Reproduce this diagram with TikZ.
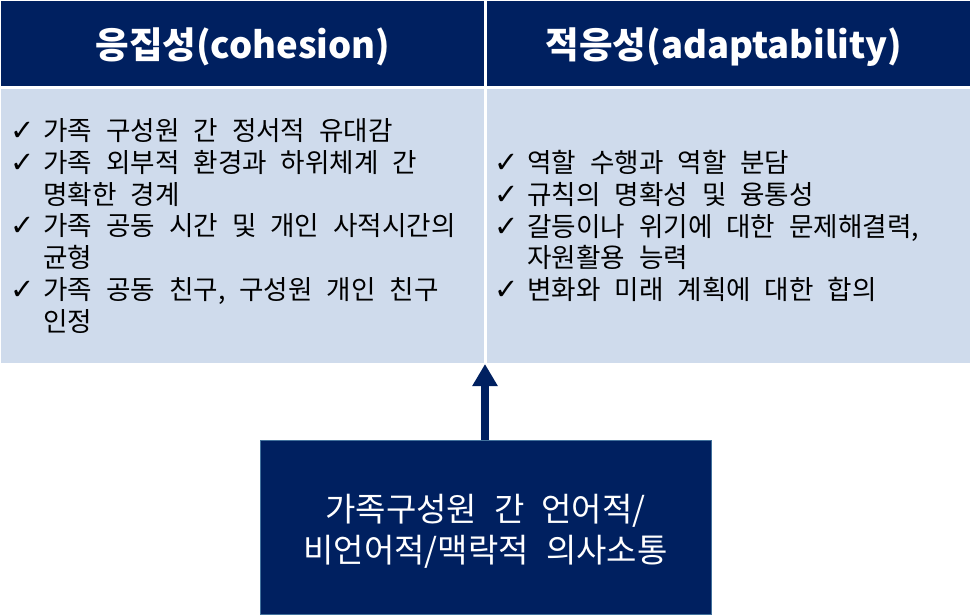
\documentclass[tikz,border=0pt]{standalone}
\usepackage{fontspec}
\usetikzlibrary{arrows.meta}
\newfontfamily\kr{Noto Sans CJK KR}
\newfontfamily\symf{DejaVu Sans}
\definecolor{navy}{RGB}{0,32,96}
\definecolor{lightbody}{RGB}{207,219,236}
\definecolor{steel}{RGB}{65,113,156}
\newcommand{\chk}{\makebox[33pt][l]{\symf\fontsize{29}{29}\selectfont ✓}}
\newcommand{\ind}{\hspace*{33pt}}
\newcommand{\setspace}[1]{\fontdimen2\font=#1\fontdimen3\font=0pt\fontdimen4\font=0pt\relax}
\tikzset{
  hdr/.style={fill=navy, draw=none, minimum width=483pt, minimum height=85pt, anchor=north west, inner sep=0pt},
  bodycell/.style={fill=lightbody, draw=none, minimum width=483pt, minimum height=274pt, anchor=north west, inner sep=0pt},
  hdrtext/.style={text=white, font=\kr\bfseries\fontsize{36.5}{40}\selectfont, inner sep=0pt},
  listtext/.style={text=black, align=left, inner sep=0pt, anchor=west, font=\kr\fontsize{26.6}{31.8}\selectfont\setspace{14pt}},
  commbox/.style={fill=navy, draw=steel, line width=1pt, minimum width=451pt, minimum height=174pt, anchor=north west, inner sep=0pt},
  commtext/.style={text=white, align=center, inner sep=0pt, font=\kr\fontsize{33}{41}\selectfont\setspace{17pt}},
  arr/.style={draw=navy, line width=8pt, -{Triangle[width=24pt,length=22pt]}}
}
\begin{document}
\begin{tikzpicture}[x=1pt,y=-1pt]
\useasboundingbox (0,0) rectangle (972,615);
% header cells
\node[hdr] (hdrL) at (1,1) {};
\node[hdr] (hdrR) at (487,1) {};
\node[hdrtext] (hdrLt) at (243,47) {응집성(cohesion)};
\node[hdrtext] (hdrRt) at (724,47) {적응성(adaptability)};
% body cells
\node[bodycell] (bodyL) at (1,89) {};
\node[bodycell] (bodyR) at (487,89) {};
\node[listtext] (txtL) at (10,226) {\chk 가족 구성원 간 정서적 유대감\\
\chk 가족 외부적 환경과 하위체계 간\\
\ind 명확한 경계\\
\chk 가족 공동 시간 및 개인 사적시간의\\
\ind 균형\\
\chk 가족 공동 친구, 구성원 개인 친구\\
\ind 인정};
\node[listtext] (txtR) at (494,226) {\chk 역할 수행과 역할 분담\\
\chk 규칙의 명확성 및 융통성\\
\chk 갈등이나 위기에 대한 문제해결력,\\
\ind 자원활용 능력\\
\chk 변화와 미래 계획에 대한 합의};
% bottom box
\node[commbox] (comm) at (260,440) {};
\node[commtext] (commt) at (485.5,531) {가족구성원 간 언어적/\\비언어적/맥락적 의사소통};
% arrow
\coordinate (tip) at (485,364);
\draw[arr] (comm.north -| tip) -- (tip);
\end{tikzpicture}
\end{document}
